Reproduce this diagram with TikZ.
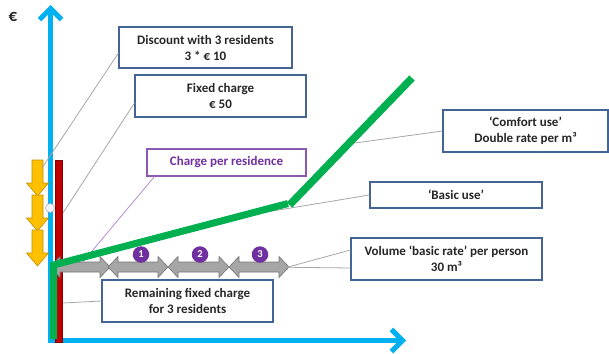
\documentclass[tikz,border=0pt]{standalone}
\usepackage{fontspec}
\setmainfont{Carlito}
\usetikzlibrary{arrows.meta}
\definecolor{axisblue}{RGB}{0,176,240}
\definecolor{usegreen}{RGB}{0,176,80}
\definecolor{barred}{RGB}{192,0,0}
\definecolor{stepyellow}{RGB}{255,192,0}
\definecolor{numpurple}{RGB}{112,48,160}
\definecolor{boxblue}{RGB}{68,100,150}

\begin{document}
\begin{tikzpicture}[x=1pt,y=-1pt,
		infobox/.style={rectangle,draw=boxblue,line width=1.1pt,fill=white,align=center,inner sep=0pt,
			font=\fontsize{13}{16}\selectfont\bfseries,text=black!85},
		callout/.style={draw=black!35,line width=0.8pt},
		volarrow/.style={fill=black!35,draw=black!55,line width=0.6pt},
		stepdown/.style={fill=stepyellow,draw=stepyellow!75!black,line width=0.6pt},
		numdot/.style={circle,fill=numpurple,text=white,inner sep=0pt,minimum size=16.5pt,
			font=\fontsize{10.5}{10.5}\selectfont\bfseries}]
		\useasboundingbox (0,0) rectangle (609,353);

		% axes
		\draw[axisblue,line width=5pt,-{Straight Barb[length=11pt,width=22pt]}] (50.5,343) -- (50.5,5);
		\draw[axisblue,line width=5pt,-{Straight Barb[length=11pt,width=22pt]}] (50,340.5) -- (406,340.5);
		\node[font=\fontsize{17}{17}\selectfont\bfseries,text=black!85] (euro) at (13,17) {€};

		% fixed charge bar and discount steps
		\filldraw[fill=barred,draw=barred!70!black,line width=0.5pt] (55,160) rectangle (62,342);
		\foreach \yt in {160,195,230}
			\draw[stepdown] (32,\yt) -- (43,\yt) -- (43,\yt+23) -- (48.5,\yt+23) -- (37.5,\yt+36)
				-- (26.5,\yt+23) -- (32,\yt+23) -- cycle;
		\draw[fill=blue!5,draw=black!30,line width=0.6pt] (50,208) circle (4.5);

		% volume steps
		\foreach \xa/\xb in {50/110,108/168,168/229,229/289}
			\draw[volarrow] (\xa,267) -- (\xa+10,256.5) -- (\xa+10,262) -- (\xb-10,262) -- (\xb-10,256.5)
				-- (\xb,267) -- (\xb-10,277.5) -- (\xb-10,272) -- (\xa+10,272) -- (\xa+10,277.5) -- cycle;

		% points the labels refer to
		\coordinate (dscend) at (42,168);
		\coordinate (fixend) at (63,213);
		\coordinate (resend) at (82,263);
		\coordinate (comend) at (355,143);
		\coordinate (basend) at (230,218);
		\coordinate (volend1) at (265,267);
		\coordinate (volend2) at (288,267);
		\coordinate (remend) at (63,303);

		\node[infobox,minimum width=173pt,minimum height=41pt] (discount)
			at (205.5,47.5) {Discount with 3 residents\\3 * € 10};
		\node[infobox,minimum width=171pt,minimum height=42pt] (fixed)
			at (220.5,96) {Fixed charge\\€ 50};
		\node[infobox,draw=numpurple!80,text=numpurple,minimum width=159pt,minimum height=27pt] (perres)
			at (226.5,162.5) {Charge per residence};
		\node[infobox,minimum width=165pt,minimum height=42pt] (comfort)
			at (525.5,131) {‘Comfort use’\\Double rate per m³};
		\node[infobox,minimum width=172pt,minimum height=26pt] (basic)
			at (456,195) {‘Basic use’};
		\node[infobox,minimum width=191pt,minimum height=42pt] (volume)
			at (446.5,259) {Volume ‘basic rate’ per person\\30 m³};
		\node[infobox,minimum width=171pt,minimum height=42pt] (remaining)
			at (187.5,301) {Remaining fixed charge\\for 3 residents};

		\path[callout] ([yshift=-5.5pt]discount.west) edge (dscend);
		\path[callout] ([yshift=-7pt]fixed.west) edge (fixend);
		\path[callout,draw=numpurple!55] ([xshift=8pt]perres.south west) edge (resend);
		\path[callout] (comfort.west) edge (comend);
		\path[callout] (basic.west) edge (basend);
		\path[callout] ([yshift=-9pt]volume.west) edge (volend1);
		\path[callout] ([yshift=9pt]volume.west) edge (volend2);
		\path[callout] (remaining.west) edge (remend);

		% water use line
		\draw[usegreen,line width=7pt] (53.5,339) -- (53.5,265) -- (288,203.5);
		\draw[usegreen,line width=7.5pt] (289.5,205) -- (412,78);

		\node[numdot] (n1) at (141,254.5) {1};
		\node[numdot] (n2) at (200,254.5) {2};
		\node[numdot] (n3) at (260,254.5) {3};
	\end{tikzpicture}
\end{document}
